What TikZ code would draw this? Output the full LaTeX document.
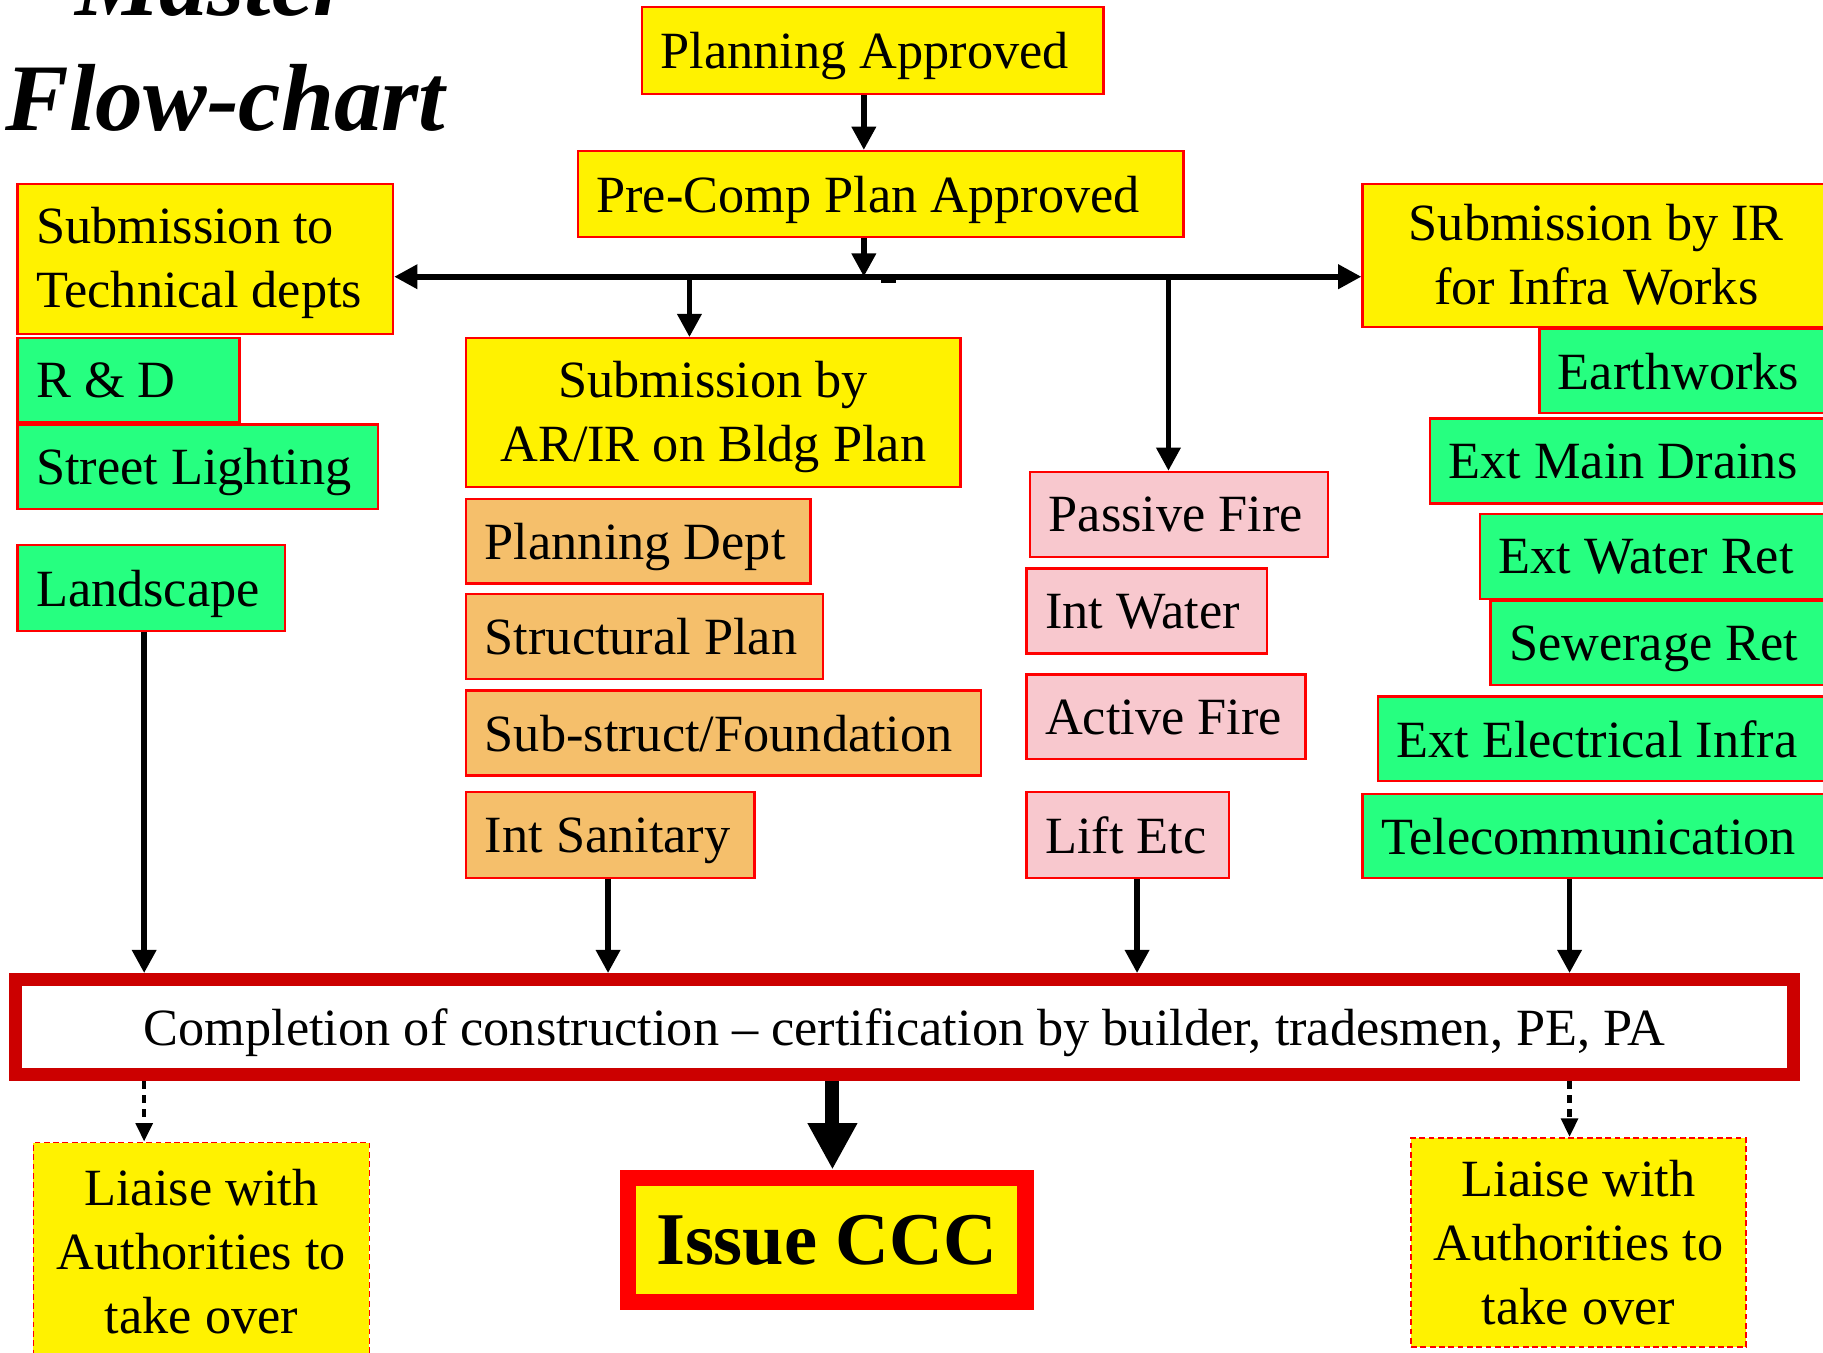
\documentclass[tikz,border=0pt]{standalone}
\usepackage{fontspec}
\setmainfont{Liberation Serif}
\usetikzlibrary{arrows.meta}

\definecolor{grn}{HTML}{26FF80}
\definecolor{org}{HTML}{F5BF6B}
\definecolor{pnk}{HTML}{F8C8CE}
\definecolor{compred}{HTML}{CC0000}

\tikzset{
  box/.style={draw=red, line width=2pt, inner xsep=16pt, inner ysep=0pt, anchor=north west, align=flush left,
    minimum height=73pt, text depth=0pt, font=\fontsize{45}{55}\selectfont},
  ybox/.style={box, fill=yellow},
  gbox/.style={box, fill=grn},
  obox/.style={box, fill=org},
  pbox/.style={box, fill=pnk},
  twoline/.style={text depth=57pt},
  liaise/.style={draw=red, fill=yellow, line width=1.5pt, dash pattern=on 5pt off 3pt, anchor=north west,
    align=flush center, font=\fontsize{45}{55}\selectfont},
  arr/.style={-{Triangle[width=20pt,length=20pt]}, line width=5pt},
  biarr/.style={{Triangle[width=20pt,length=20pt]}-{Triangle[width=20pt,length=20pt]}, line width=5pt},
  darr/.style={-{Triangle[width=14pt,length=16pt]}, line width=4pt, dash pattern=on 7pt off 5pt},
  bigarr/.style={-{Triangle[width=40pt,length=40pt]}, line width=12pt}
}

\begin{document}
\begin{tikzpicture}[x=1pt,y=1pt,yscale=-1]
\useasboundingbox (0,0) rectangle (1568,1163);

% title
\node[anchor=base, font=\bfseries\itshape\fontsize{82}{100}\selectfont] (title1) at (183,13) {Master};
\node[anchor=base, font=\bfseries\itshape\fontsize{82}{100}\selectfont] (title2) at (194,112) {Flow-chart};

% top of the chart
\node[ybox, text width=365pt, minimum height=75pt] (plan) at (551,5) {Planning Approved};
\node[ybox, text width=489pt, minimum height=74pt] (precomp) at (496,129) {Pre-Comp Plan Approved};
\node[ybox, twoline, text width=291pt, minimum height=129pt] (subtech) at (14,157) {Submission to\\Technical depts};
\node[ybox, twoline, text width=370pt, minimum height=123pt, align=flush center] (subir) at (1171,157) {Submission by IR\hspace*{14pt}\\for Infra Works\hspace*{14pt}};

% left column
\node[gbox, text width=159pt, minimum height=72pt] (rnd) at (14,290) {R \& D};
\node[gbox, text width=278pt] (street) at (14,364) {Street Lighting};
\node[gbox, text width=198pt, minimum height=74pt] (landscape) at (14,468) {Landscape};

% building plan column
\node[ybox, twoline, text width=393pt, minimum height=128pt, align=flush center] (subar) at (400,290) {Submission by\\AR/IR on Bldg Plan};
\node[obox, text width=264pt] (pdept) at (400,428) {Planning Dept};
\node[obox, text width=275pt] (struct) at (400,510) {Structural Plan};
\node[obox, text width=411pt] (substr) at (400,593) {Sub-struct/Foundation};
\node[obox, text width=216pt, minimum height=74pt] (intsan) at (400,680) {Int Sanitary};

% fire and water column
\node[pbox, text width=224pt] (pfire) at (885,405) {Passive Fire};
\node[pbox, text width=175pt] (iwater) at (882,488) {Int Water};
\node[pbox, text width=208pt] (afire) at (882,579) {Active Fire};
\node[pbox, text width=142pt, minimum height=74pt] (lift) at (882,680) {Lift Etc};

% infra column
\node[gbox, text width=218pt, minimum height=72pt] (earth) at (1323,282) {Earthworks};
\node[gbox, text width=312pt] (drains) at (1229,359) {Ext Main Drains};
\node[gbox, text width=269pt] (water) at (1272,441) {Ext Water Ret};
\node[gbox, text width=260pt, minimum height=72pt] (sewer) at (1281,516) {Sewerage Ret};
\node[gbox, text width=357pt] (elec) at (1184,598) {Ext Electrical Infra};
\node[gbox, text width=370pt, minimum height=72pt] (telecom) at (1171,682) {Telecommunication};

% bottom
\node[draw=compred, fill=white, line width=11pt, minimum width=1529pt, minimum height=82pt, inner sep=0pt,
  text depth=0pt, font=\fontsize{45}{55}\selectfont] (compl) at (778,883.5) {Completion of construction – certification by builder, tradesmen, PE, PA};
\node[draw=red, fill=yellow, line width=14pt, minimum width=342pt, minimum height=107pt, inner sep=0pt,
  font=\bfseries\fontsize{64}{70}\selectfont] (ccc) at (711,1066.5) {Issue CCC};
\node[liaise, minimum width=289pt, minimum height=188pt] (liaiseL) at (28,982) {Liaise with\\Authorities to\\take over};
\node[liaise, minimum width=288pt, minimum height=180pt] (liaiseR) at (1213,978) {Liaise with\\Authorities to\\take over};

% connectors
\coordinate (bus) at (743,238);
\coordinate (xA) at (593,0);
\coordinate (xP) at (1005,0);
\coordinate (xL) at (124,0);
\coordinate (xS) at (523,0);
\coordinate (xF) at (978,0);
\coordinate (xT) at (1350,0);
\coordinate (xC) at (716,0);

\draw[arr] (plan.south -| bus) -- (precomp.north -| bus);
\draw[arr] (precomp.south -| bus) -- (bus);
\draw[biarr] (subtech.east |- bus) -- (subir.west |- bus);
\fill (758,237) rectangle (771,243.5);
\draw[arr] (bus -| xA) -- (subar.north -| xA);
\draw[arr] (bus -| xP) -- (pfire.north -| xP);

\draw[arr] (landscape.south -| xL) -- (compl.north -| xL);
\draw[arr] (intsan.south -| xS) -- (compl.north -| xS);
\draw[arr] (lift.south -| xF) -- (compl.north -| xF);
\draw[arr] (telecom.south -| xT) -- (compl.north -| xT);

\draw[darr] (compl.south -| xL) -- (liaiseL.north -| xL);
\draw[darr] (compl.south -| xT) -- (liaiseR.north -| xT);
\draw[bigarr] (compl.south -| xC) -- (ccc.north -| xC);

\end{tikzpicture}
\end{document}
